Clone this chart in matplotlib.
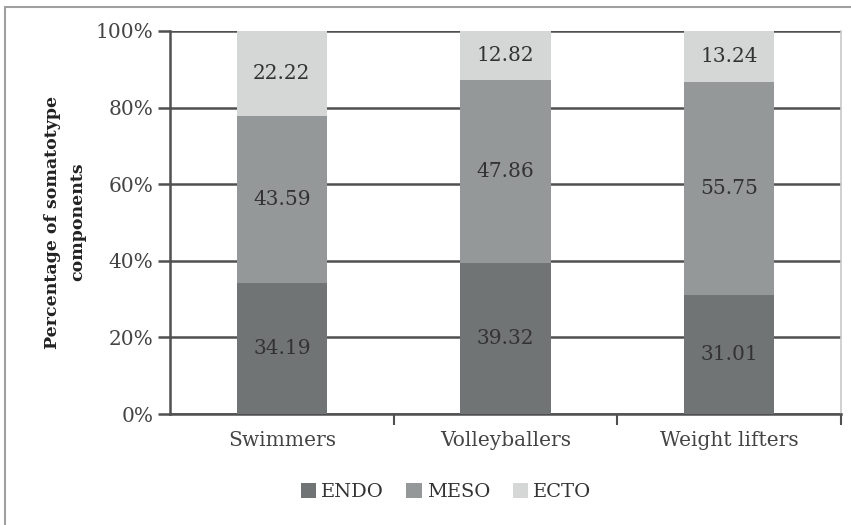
import matplotlib
matplotlib.use("Agg")
import matplotlib.pyplot as plt
from matplotlib.patches import Rectangle
import numpy as np

categories = ["Swimmers", "Volleyballers", "Weight lifters"]
endo = [34.19, 39.32, 31.01]
meso = [43.59, 47.86, 55.75]
ecto = [22.22, 12.82, 13.24]
series_names = ["ENDO", "MESO", "ECTO"]
colors = ["#707475", "#959899", "#d5d6d6"]
yticks = [0, 20, 40, 60, 80, 100]

plt.rcParams['font.family'] = ['DejaVu Serif']

fig = plt.figure(figsize=(8.51, 5.25), dpi=100)
fig.patches.append(Rectangle((5/851, -0.05), 1.1, 1.05 - 7/525, transform=fig.transFigure,
                             fill=False, edgecolor="#a0a0a0", linewidth=1.5))
ax = fig.add_axes([170/851, 1 - 414/525, (841-170)/851, (414-31)/525])

x = np.arange(len(categories))
vals = [endo, meso, ecto]
bottom = np.zeros(len(categories))
handles = []
for name, v, c in zip(series_names, vals, colors):
    b = ax.bar(x, v, width=0.405, bottom=bottom, color=c, label=name, zorder=3)
    handles.append(b)
    for xi, vi, bi in zip(x, v, bottom):
        ax.text(xi, bi + vi / 2, f"{vi:.2f}", ha="center", va="center",
                fontsize=14.5, color="#333333", zorder=4)
    bottom += np.array(v)

ax.set_xlim(-0.5, 2.5)
ax.set_ylim(0, 100)
ax.set_yticks(yticks)
ax.set_yticklabels([f"{t}%" for t in yticks], fontsize=14.5, color="#444444")
ax.yaxis.grid(True, color="#505050", linewidth=1.8, zorder=1)
ax.set_axisbelow(True)

ax.set_xticks(x)
ax.set_xticklabels(categories, fontsize=14.5, color="#444444")
ax.tick_params(axis="x", length=0, pad=12)
ax.set_xticks([0.5, 1.5, 2.5], minor=True)
ax.tick_params(axis="x", which="minor", length=8, width=1.5, color="#505050")
ax.tick_params(axis="y", length=9, width=1.8, color="#505050", pad=3)

ax.spines["top"].set_visible(False)
ax.spines["right"].set_color("#c8c8c8")
ax.spines["right"].set_linewidth(1.2)
for s in ["left", "bottom"]:
    ax.spines[s].set_color("#505050")
    ax.spines[s].set_linewidth(1.8)

fig.text(65/851, 1 - 222/525, "Percentage of somatotype\ncomponents", rotation=90,
         ha="center", va="center", fontsize=12.5, fontweight="bold",
         color="#222222", linespacing=1.65, multialignment="center")

fig.legend(handles=handles, labels=series_names, loc="center", bbox_to_anchor=(446/851, 1 - 492/525),
           ncol=3, frameon=False, fontsize=14, handlelength=0.8, handleheight=0.8,
           handletextpad=0.25, columnspacing=1.15, labelcolor="#333333")

fig.savefig("out.png", dpi=100)
